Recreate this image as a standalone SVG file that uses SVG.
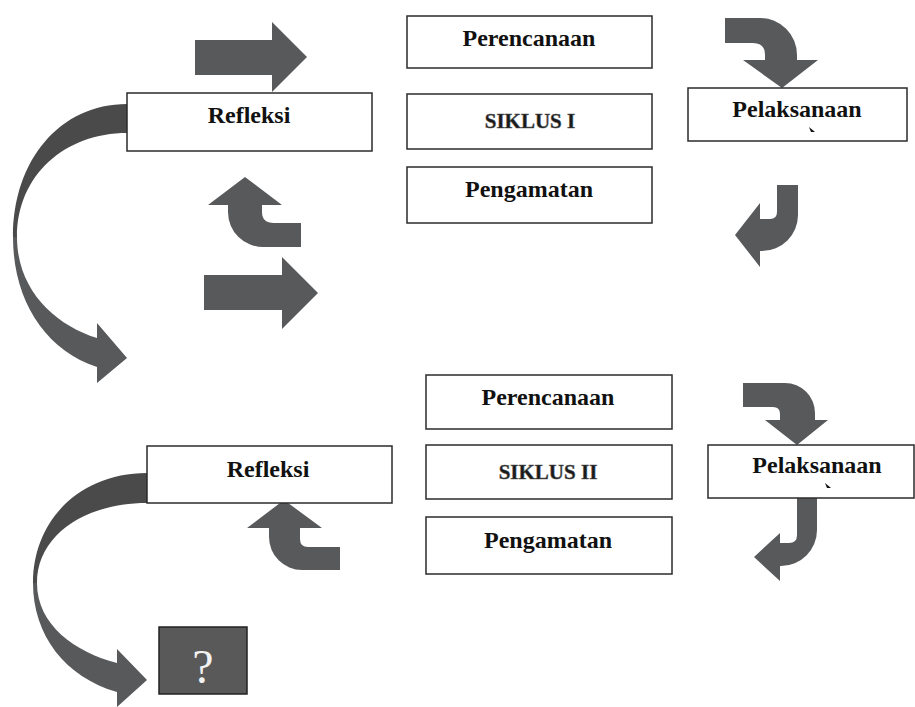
<svg xmlns="http://www.w3.org/2000/svg" width="915" height="707" viewBox="0 0 915 707">
<style>
.box{fill:#ffffff;stroke:#2b2b2b;stroke-width:1.5}
.lbl{font-family:"Liberation Serif","Times New Roman",serif;font-weight:bold;font-size:24px;fill:#111;text-anchor:middle}
.sik{font-family:"Liberation Serif","Times New Roman",serif;font-weight:bold;font-size:21px;fill:#1a1a1a;stroke:#555;stroke-width:0.5;text-anchor:middle}
.arr{fill:#58595b}
.dark{fill:#4a4a4a}
.cur{fill:#111}
</style>
<rect width="915" height="707" fill="#ffffff"/>
<g id="connectors">
  <polygon class="arr" points="195,40 272,40 272,22 307,57 272,92 272,75 195,75"/>
  <polygon class="arr" points="204,275 282,275 282,257 318,293 282,329 282,310 204,310"/>
  <path class="dark" d="M127,104 C60,104 13,160 13,237 L17,237 C17,175 65,133 127,133 Z"/>
  <path class="arr" d="M13,237 C13,300 45,350 97,367 L97,383 L127,358 L97,323 L97,338 C55,325 17,290 17,237 Z"/>
  <path class="arr" d="M208,205 L245,177 L282,205 L262,205 L262,212 Q262,223 274,223 L301,223 L301,247 L263,247 A35,35 0 0 1 228,212 L228,205 Z"/>
  <path class="arr" d="M725,18 L760,18 A37,37 0 0 1 797,55 L797,60 L818,60 L782,88 L743,60 L765,60 L765,55 Q765,43 753,43 L725,43 Z"/>
  <path class="arr" d="M777,185 L798,185 L798,215 A36,36 0 0 1 762,251 L760,251 L760,267 L735,235 L760,203 L760,219 L770,219 Q777,219 777,212 Z"/>
  <path class="dark" d="M147,473 C80,473 33,520 33,583 L37,583 C37,535 85,503 147,503 Z"/>
  <path class="arr" d="M33,583 C33,635 65,677 117,692 L117,707 L147,680 L117,649 L117,663 C75,652 37,625 37,583 Z"/>
  <path class="arr" d="M247,528 L284,500 L322,528 L300,528 L300,539 Q300,547 308,547 L340,547 L340,570 L302,570 A33,33 0 0 1 269,537 L269,528 Z"/>
  <path class="arr" d="M743,383 L785,383 A30,30 0 0 1 815,413 L815,420 L828,420 L797,445 L765,420 L780,420 L780,414 Q780,407 773,407 L743,407 Z"/>
  <path class="arr" d="M797,498 L817,498 L817,530 A36,36 0 0 1 781,566 L780,566 L780,581 L754,557 L780,533 L780,543 L789,543 Q797,543 797,535 Z"/>
</g>
<g id="refleksi1"><rect class="box" x="127" y="93" width="245" height="58"/><text class="lbl" x="249" y="123">Refleksi</text></g>
<g id="perencanaan1"><rect class="box" x="407" y="16" width="245" height="52"/><text class="lbl" x="529" y="46">Perencanaan</text></g>
<g id="siklus1"><rect class="box" x="407" y="94" width="245" height="55"/><text class="sik" x="530" y="128">SIKLUS I</text></g>
<g id="pengamatan1"><rect class="box" x="407" y="167" width="245" height="56"/><text class="lbl" x="529" y="197">Pengamatan</text></g>
<g id="pelaksanaan1"><rect class="box" x="688" y="88" width="219" height="53"/><text class="lbl" x="797" y="117">Pelaksanaan</text><polygon class="cur" points="809,127 815,132 811,132"/></g>
<g id="refleksi2"><rect class="box" x="147" y="446" width="245" height="57"/><text class="lbl" x="268" y="477">Refleksi</text></g>
<g id="perencanaan2"><rect class="box" x="426" y="375" width="246" height="54"/><text class="lbl" x="548" y="405">Perencanaan</text></g>
<g id="siklus2"><rect class="box" x="426" y="445" width="246" height="54"/><text class="sik" x="548" y="479">SIKLUS II</text></g>
<g id="pengamatan2"><rect class="box" x="426" y="517" width="246" height="57"/><text class="lbl" x="548" y="548">Pengamatan</text></g>
<g id="pelaksanaan2"><rect class="box" x="708" y="445" width="206" height="53"/><text class="lbl" x="817" y="473">Pelaksanaan</text><polygon class="cur" points="825,483 831,488 827,488"/></g>
<g id="question"><rect x="159" y="627" width="88" height="67" fill="#595959" stroke="#222" stroke-width="1.5"/><text x="203" y="683" font-family="Liberation Serif, Times New Roman, serif" font-size="48" fill="#f2f2f2" text-anchor="middle">?</text></g>
</svg>
